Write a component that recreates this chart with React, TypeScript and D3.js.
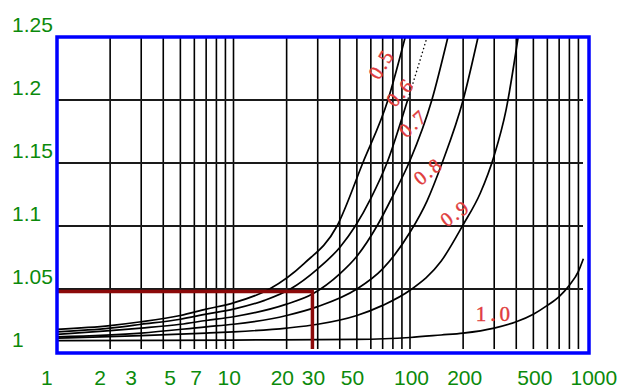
import React from "react";
import * as d3 from "d3";

// ---------- data ----------
const xTickValues = [1, 2, 3, 5, 7, 10, 20, 30, 50, 100, 200, 500, 1000];
const yTickValues = [1, 1.05, 1.1, 1.15, 1.2, 1.25];
const yTickLabels = ["1", "1.05", "1.1", "1.15", "1.2", "1.25"];
const xGridValues = [2, 3, 4, 5, 6, 7, 8, 9, 10, 20, 30, 40, 50, 60, 70, 80, 90, 100, 200, 300, 400, 500, 600, 700, 800, 900];
const yGridValues = [1.05, 1.1, 1.15, 1.2];

const curve05: [number, number][] = [[1, 1.018], [2, 1.021], [3, 1.024], [5, 1.029], [7, 1.034], [10, 1.039], [16, 1.05], [25, 1.07], [38.6, 1.1], [54, 1.15], [75, 1.2], [94, 1.25]];
const curve06: [number, number][] = [[1, 1.016], [2, 1.019], [3, 1.022], [5, 1.026], [7, 1.03], [10, 1.034], [15, 1.041], [21, 1.05], [30, 1.066], [40, 1.083], [49, 1.1], [60, 1.122], [74, 1.15], [97, 1.2], [125, 1.25]];
const curve07: [number, number][] = [[1, 1.014], [2, 1.017], [3, 1.019], [5, 1.022], [7, 1.025], [10, 1.028], [20, 1.038], [28, 1.046], [40, 1.062], [50, 1.076], [65, 1.1], [80, 1.124], [100, 1.152], [133, 1.2], [164, 1.25]];
const curve08: [number, number][] = [[1, 1.012], [3, 1.015], [7, 1.02], [10, 1.022], [20, 1.029], [30, 1.036], [50, 1.05], [70, 1.066], [100, 1.095], [125, 1.12], [152, 1.15], [200, 1.2], [243, 1.25]];
const curve09: [number, number][] = [[1, 1.011], [3, 1.013], [7, 1.015], [10, 1.016], [20, 1.019], [30, 1.022], [50, 1.029], [70, 1.037], [100, 1.049], [150, 1.072], [200, 1.101], [250, 1.126], [300, 1.156], [350, 1.192], [410, 1.25]];
const curve10: [number, number][] = [[1, 1.009], [10, 1.0095], [50, 1.01], [100, 1.0115], [150, 1.0135], [200, 1.015], [300, 1.019], [400, 1.024], [500, 1.03], [600, 1.037], [700, 1.044], [800, 1.053], [900, 1.064], [960, 1.074]];

const curveNames = ["0.5", "0.6", "0.7", "0.8", "0.9", "1.0"];
// label anchor in data space (n, value) and text angle
const labelN = [68.5, 87.8, 104, 126.5, 179.8, 303];
const labelV = [1.2286, 1.2063, 1.1817, 1.1437, 1.1103, 1.0302];
const labelAngle = [-59, -48, -42, -39, -36, 0];

const exampleN = 28;
const exampleK = 1.048;

// ---------- chart ----------
export default function App() {
  const W = 623, H = 391;
  const x = d3.scaleLog().domain([1, 1000]).range([57, 586.5]);
  const y = d3.scaleLinear().domain([1, 1.25]).range([352, 37]);
  const line = d3
    .line<[number, number]>()
    .x((d) => x(d[0]))
    .y((d) => y(d[1]))
    .curve(d3.curveMonotoneX);

  const curves = [curve05, curve06, curve07, curve08, curve09, curve10];
  const green = "#0b8a0b";
  const labelRed = "#e03c3c";
  const font = "'Liberation Sans', Arial, sans-serif";
  const left = 57, right = 589, top = 37, bottom = 353;

  return (
    <svg
      width={W}
      height={H}
      viewBox={`0 0 ${W} ${H}`}
      style={{ position: "absolute", left: 0, top: 0, background: "#fff" }}
    >
      <defs>
        <clipPath id="below12">
          <rect x={left} y={y(1.2)} width={right - left} height={bottom - y(1.2)} />
        </clipPath>
        <clipPath id="above12">
          <rect x={left} y={top} width={right - left} height={y(1.2) - top} />
        </clipPath>
      </defs>

      {/* vertical grid */}
      {xGridValues.map((v) => (
        <line key={"gx" + v} x1={x(v)} x2={x(v)} y1={top} y2={349} stroke="#000" strokeWidth={1.6} />
      ))}
      {/* horizontal grid */}
      {yGridValues.map((v) => (
        <line key={"gy" + v} x1={left} x2={583} y1={y(v)} y2={y(v)} stroke="#1a1a1a" strokeWidth={1.8} />
      ))}

      {/* curves */}
      {curves.map((c, i) =>
        i === 1 ? (
          <g key={"c" + i}>
            <path d={line(c) || ""} fill="none" stroke="#000" strokeWidth={1.7} clipPath="url(#below12)" />
            <path d={line(c) || ""} fill="none" stroke="#000" strokeWidth={1.3} strokeDasharray="1.5 2.5" clipPath="url(#above12)" />
          </g>
        ) : (
          <path key={"c" + i} d={line(c) || ""} fill="none" stroke="#000" strokeWidth={1.7} />
        )
      )}

      {/* example red lines */}
      <line x1={left} x2={x(exampleN) + 1.5} y1={y(exampleK)} y2={y(exampleK)} stroke="#8c0a0a" strokeWidth={3.5} />
      <line x1={x(exampleN)} x2={x(exampleN)} y1={y(exampleK)} y2={349} stroke="#8c0a0a" strokeWidth={3.5} />

      {/* curve labels */}
      {curveNames.map((name, i) => (
        <text
          key={"lab" + i}
          transform={`translate(${x(labelN[i])},${y(labelV[i])}) rotate(${labelAngle[i]})`}
          textAnchor="middle"
          dominantBaseline="central"
          fill={labelRed}
          stroke={labelRed}
          strokeWidth={0.4}
          fontFamily="'Liberation Serif', serif"
          fontSize={i === 5 ? 21 : 20}
          letterSpacing={i === 5 ? 4 : 2}
        >
          {name}
        </text>
      ))}

      {/* blue frame */}
      <rect x={left} y={top} width={right - left} height={bottom - top} fill="none" stroke="#0000ff" strokeWidth={3.5} />

      {/* y tick labels */}
      {yTickValues.map((v, i) => (
        <text key={"yt" + v} x={12} y={y(v) - 5.5} fill={green} fontFamily={font} fontSize={21}>
          {yTickLabels[i]}
        </text>
      ))}
      {/* x tick labels */}
      {xTickValues.map((v) => (
        <text key={"xt" + v} x={x(v) - 16} y={385} fill={green} fontFamily={font} fontSize={21}>
          {String(v)}
        </text>
      ))}
    </svg>
  );
}
